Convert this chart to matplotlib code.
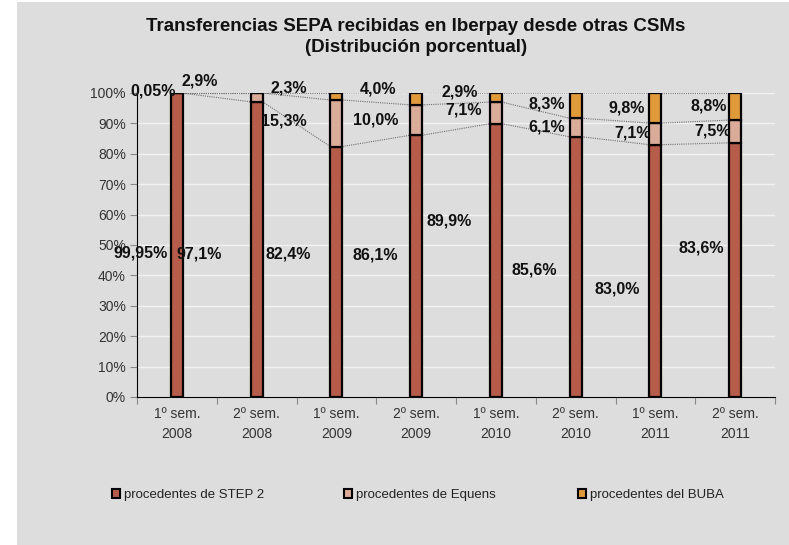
import matplotlib
matplotlib.use("Agg")
import matplotlib.pyplot as plt
from matplotlib.patches import Patch, Rectangle
import numpy as np

plt.rcParams['font.family'] = ['Liberation Sans', 'DejaVu Sans']

# ---- data ----
categories = ["1º sem.\n2008", "2º sem.\n2008", "1º sem.\n2009", "2º sem.\n2009",
              "1º sem.\n2010", "2º sem.\n2010", "1º sem.\n2011", "2º sem.\n2011"]
step2 = [99.95, 97.1, 82.4, 86.1, 89.9, 85.6, 83.0, 83.6]
equens = [0.05, 2.9, 15.3, 10.0, 7.1, 6.1, 7.1, 7.5]
buba = [0.0, 0.0, 2.3, 4.0, 2.9, 8.3, 9.8, 8.8]
step2_labels = ["99,95%", "97,1%", "82,4%", "86,1%", "89,9%", "85,6%", "83,0%", "83,6%"]
equens_labels = ["0,05%", "2,9%", "15,3%", "10,0%", "7,1%", "6,1%", "7,1%", "7,5%"]
buba_labels = ["", "", "2,3%", "4,0%", "2,9%", "8,3%", "9,8%", "8,8%"]
series_names = ["procedentes de STEP 2", "procedentes de Equens", "procedentes del BUBA"]
title = "Transferencias SEPA recibidas en Iberpay desde otras CSMs\n(Distribución porcentual)"

# ---- label placement (layout only: x in category units, y in axis units) ----
step2_pos = [(-0.45, 47.4), (0.28, 47.2), (1.39, 47.0), (2.49, 46.7),
             (3.42, 57.9), (4.48, 41.8), (5.52, 35.5), (6.58, 49.0)]
equens_pos = [(-0.30, 100.7), (0.29, 104.0), (1.34, 90.8), (2.49, 91.1),
              (3.59, 94.4), (4.64, 88.8), (5.72, 86.8), (6.72, 87.5)]
buba_pos = [None, None, (1.40, 101.6), (2.52, 101.3),
            (3.54, 100.3), (4.64, 96.4), (5.64, 95.0), (6.67, 95.7)]

colors = ["#b65c4a", "#d9ab98", "#e09a3a"]
bg = "#dddddd"

fig = plt.figure(figsize=(7.89, 5.45), dpi=100)
fig.patch.set_facecolor("white")
fig.patches.append(Rectangle((17 / 789, 0), 1, 1 - 2 / 545, transform=fig.transFigure,
                             facecolor=bg, edgecolor="none", zorder=-10))

ax = fig.add_axes([137 / 789, 1 - 397 / 545, (775 - 137) / 789, (397 - 93) / 545])
ax.set_facecolor(bg)

x = np.arange(len(categories))
w = 0.15
s2 = np.array(step2)
eq = np.array(equens)
bb = np.array(buba)
ax.bar(x, s2, w, color=colors[0], edgecolor="black", linewidth=1.6, zorder=3)
ax.bar(x, eq, w, bottom=s2, color=colors[1], edgecolor="black", linewidth=1.6, zorder=3)
ax.bar(x, bb, w, bottom=s2 + eq, color=colors[2], edgecolor="black", linewidth=1.6, zorder=3)

# series lines
for cum in (s2, s2 + eq, s2 + eq + bb):
    for i in range(len(x) - 1):
        ax.plot([x[i] + w / 2, x[i + 1] - w / 2], [cum[i], cum[i + 1]],
                color="#707070", linestyle=(0, (1, 1)), linewidth=0.8, zorder=2)

ax.set_xlim(-0.5, len(x) - 0.5)
ax.set_ylim(0, 100)
ax.set_yticks(np.arange(0, 101, 10))
ax.set_yticklabels([f"{v}%" for v in range(0, 101, 10)], fontsize=10, color="#333333")
ax.yaxis.grid(True, color="#f2f2f2", linewidth=1.0, zorder=0)
ax.set_axisbelow(True)

ax.set_xticks(np.arange(-0.5, len(x), 1.0))
ax.set_xticklabels([])
ax.set_xticks(x, minor=True)
ax.set_xticklabels(categories, minor=True, fontsize=10, color="#333333", linespacing=1.6)
ax.tick_params(axis="x", which="minor", length=0, pad=7)
ax.tick_params(axis="x", which="major", length=5, color="#888888")
ax.tick_params(axis="y", length=5, color="#888888", pad=3)

for sp in ("top", "right"):
    ax.spines[sp].set_visible(False)
ax.spines["left"].set_color("black")
ax.spines["bottom"].set_color("black")

fs = 11.5
for labels, pos in ((step2_labels, step2_pos), (equens_labels, equens_pos), (buba_labels, buba_pos)):
    for lab, p in zip(labels, pos):
        if p is None or not lab:
            continue
        ax.text(p[0], p[1], lab, ha="center", va="center", fontsize=fs,
                fontweight="bold", color="#111111", zorder=5, clip_on=False)

fig.text(416 / 789, 1 - 37 / 545, title, ha="center", va="center", fontsize=13.5,
         fontweight="bold", linespacing=1.3, color="#111111")

leg_x = [112, 344, 578]
for name, c, lx in zip(series_names, colors, leg_x):
    h = Patch(facecolor=c, edgecolor="black", linewidth=1.5)
    lg = fig.legend([h], [name], loc="center left",
                    bbox_to_anchor=(lx / 789, 1 - 495 / 545), frameon=False,
                    fontsize=9.5, handlelength=0.6, handleheight=0.6,
                    handletextpad=0.3, borderpad=0, borderaxespad=0)
    for t in lg.get_texts():
        t.set_color("#222222")

fig.savefig("out.png", dpi=100, facecolor=fig.get_facecolor())
